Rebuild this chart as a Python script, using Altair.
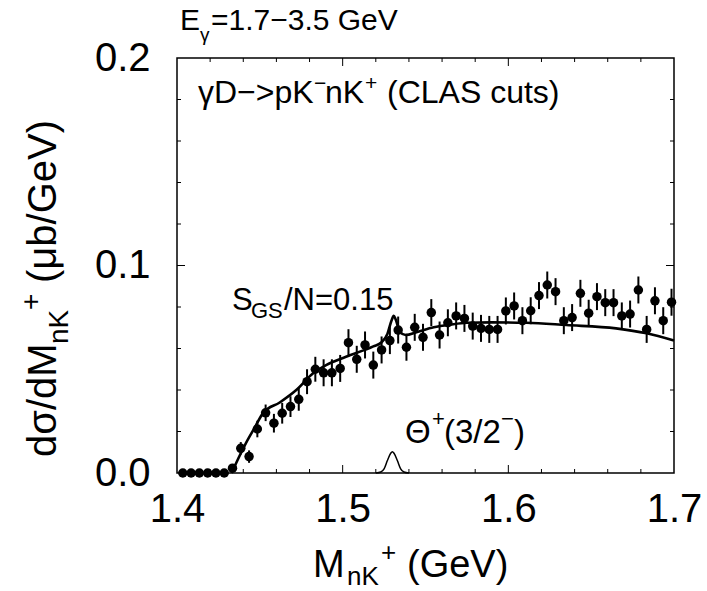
import altair as alt
import pandas as pd

# Measured cross section dsigma/dM(nK+) for gamma D -> p K- n K+ (CLAS cuts)
mass = [1.4035, 1.4085, 1.4135, 1.4185, 1.4235, 1.4285, 1.4335, 1.4385, 1.4435, 1.4485,
        1.4535, 1.4585, 1.4635, 1.4685, 1.4735, 1.4785, 1.4835, 1.4885, 1.4935, 1.4985,
        1.5035, 1.5085, 1.5135, 1.5185, 1.5235, 1.5285, 1.5335, 1.5385, 1.5435, 1.5485,
        1.5535, 1.5585, 1.5635, 1.5685, 1.5735, 1.5785, 1.5835, 1.5885, 1.5935, 1.5985,
        1.6035, 1.6085, 1.6135, 1.6185, 1.6235, 1.6285, 1.6335, 1.6385, 1.6435, 1.6485,
        1.6535, 1.6585, 1.6635, 1.6685, 1.6735, 1.6785, 1.6835, 1.6885, 1.6935, 1.6985]
dsig = [0.0, 0.0, 0.0, 0.0, 0.0, 0.0, 0.0023, 0.0119, 0.0079, 0.0212,
        0.0290, 0.0240, 0.0288, 0.0320, 0.0355, 0.0440, 0.0500, 0.0483, 0.0483, 0.0504,
        0.0628, 0.0548, 0.0617, 0.0520, 0.0593, 0.0638, 0.0689, 0.0606, 0.0702, 0.0654,
        0.0773, 0.0665, 0.0724, 0.0757, 0.0745, 0.0708, 0.0697, 0.0692, 0.0692, 0.0781,
        0.0805, 0.0734, 0.0782, 0.0855, 0.0906, 0.0874, 0.0734, 0.0749, 0.0866, 0.0770,
        0.0850, 0.0821, 0.0821, 0.0757, 0.0766, 0.0882, 0.0692, 0.0830, 0.0734, 0.0823]
dsig_err = [0.0, 0.0, 0.0, 0.0, 0.0, 0.0, 0.001, 0.003, 0.003, 0.004,
            0.004, 0.0045, 0.005, 0.005, 0.0055, 0.006, 0.006, 0.0065, 0.0065, 0.0065,
            0.0065, 0.0065, 0.0065, 0.0065, 0.0065, 0.0065, 0.0065, 0.0065, 0.0065, 0.0065,
            0.0065, 0.0065, 0.0065, 0.0065, 0.0065, 0.0065, 0.0065, 0.0065, 0.0065, 0.0065,
            0.0065, 0.0065, 0.0065, 0.0065, 0.0065, 0.0065, 0.0065, 0.0065, 0.0065, 0.0065,
            0.0065, 0.0065, 0.0065, 0.0065, 0.0065, 0.0065, 0.0065, 0.0065, 0.0065, 0.0065]

# Model: background plus Theta+ signal (S_GS/N = 0.15)
model_m = [1.433, 1.437, 1.442, 1.447, 1.452, 1.462, 1.472, 1.482, 1.490, 1.502,
           1.5185, 1.5235, 1.527, 1.5295, 1.5308, 1.532, 1.5345, 1.538, 1.545, 1.555,
           1.565, 1.575, 1.590, 1.611, 1.635, 1.665, 1.6835, 1.700]
model_v = [0.0, 0.007, 0.015, 0.022, 0.029, 0.034, 0.040, 0.048, 0.052, 0.056,
           0.061, 0.063, 0.067, 0.0735, 0.0757, 0.074, 0.068, 0.0665, 0.068, 0.0702,
           0.0715, 0.0724, 0.0726, 0.0724, 0.0713, 0.0697, 0.0673, 0.0638]

# Theta+(3/2-) signal alone
theta_m = [1.520, 1.523, 1.525, 1.527, 1.529, 1.530, 1.531, 1.533, 1.535, 1.537, 1.540]
theta_v = [0.0, 0.0005, 0.002, 0.006, 0.0095, 0.0103, 0.0095, 0.006, 0.002, 0.0005, 0.0]

# Axis ticks
x_major = [1.5, 1.6]
x_minor = [1.42, 1.44, 1.46, 1.48, 1.52, 1.54, 1.56, 1.58, 1.62, 1.64, 1.66, 1.68]
y_major = [0.1]
y_minor = [0.02, 0.04, 0.06, 0.08, 0.12, 0.14, 0.16, 0.18]

W, H = 497, 415
FONT = "Liberation Sans"

pts = pd.DataFrame({"m": mass, "v": dsig, "e": dsig_err})
pts["lo"] = pts["v"] - pts["e"]
pts["hi"] = pts["v"] + pts["e"]
model = pd.DataFrame({"m": model_m, "v": model_v})
theta = pd.DataFrame({"m": theta_m, "v": theta_v})

xs = alt.Scale(domain=[1.4, 1.7], nice=False, zero=False)
ys = alt.Scale(domain=[0.0, 0.2], nice=False, zero=False)

x_axis = alt.Axis(values=[1.4, 1.5, 1.6, 1.7], format=".1f", ticks=False, domain=False,
                  grid=False, title=None, labelFontSize=40, labelFont=FONT,
                  labelColor="black", labelPadding=16, labelFlush=False)
y_axis = alt.Axis(values=[0.0, 0.1, 0.2], format=".1f", ticks=False, domain=False,
                  grid=False, title=None, labelFontSize=40, labelFont=FONT,
                  labelColor="black", labelPadding=27)

base = alt.Chart(pts)

bars = base.mark_rule(color="black", strokeWidth=2).encode(
    x=alt.X("m:Q", scale=xs, axis=x_axis),
    y=alt.Y("lo:Q", scale=ys, axis=y_axis),
    y2="hi:Q",
)
dots = base.mark_circle(color="black", opacity=1, size=90).encode(
    x=alt.X("m:Q", scale=xs), y=alt.Y("v:Q", scale=ys)
)
model_line = alt.Chart(model).mark_line(color="black", strokeWidth=2.6,
                                        interpolate="monotone").encode(
    x=alt.X("m:Q", scale=xs), y=alt.Y("v:Q", scale=ys)
)
theta_line = alt.Chart(theta).mark_line(color="black", strokeWidth=1.5,
                                        interpolate="monotone").encode(
    x=alt.X("m:Q", scale=xs), y=alt.Y("v:Q", scale=ys)
)


def xticks(vals, length):
    d = alt.Chart(pd.DataFrame({"t": vals}))
    bottom = d.mark_rule(color="black", strokeWidth=1).encode(
        x=alt.X("t:Q", scale=xs), y=alt.value(H), y2=alt.value(H - length))
    top = d.mark_rule(color="black", strokeWidth=1).encode(
        x=alt.X("t:Q", scale=xs), y=alt.value(0), y2=alt.value(length))
    return [bottom, top]


def yticks(vals, length):
    d = alt.Chart(pd.DataFrame({"t": vals}))
    left = d.mark_rule(color="black", strokeWidth=1).encode(
        y=alt.Y("t:Q", scale=ys), x=alt.value(0), x2=alt.value(length))
    right = d.mark_rule(color="black", strokeWidth=1).encode(
        y=alt.Y("t:Q", scale=ys), x=alt.value(W), x2=alt.value(W - length))
    return [left, right]


one = pd.DataFrame({"k": [0]})


def label(text, x, y, size, angle=0):
    return alt.Chart(one).mark_text(
        text=text, font=FONT, fontSize=size, color="black", align="left",
        baseline="alphabetic", angle=angle,
    ).encode(x=alt.value(x), y=alt.value(y))


labels = [
    # beam energy range
    label("E", 3, -28, 30),
    label("γ", 23, -17, 19),
    label("=1.7−3.5 GeV", 34, -28, 30),
    # reaction
    label("γD−>pK", 21, 45, 32),
    label("−", 137, 32, 21),
    label("nK", 148, 45, 32),
    label("+", 188, 32, 21),
    label("(CLAS cuts)", 210, 45, 32),
    # signal-to-noise
    label("S", 55, 252, 31),
    label("GS", 74, 260, 22),
    label("/N=0.15", 107, 252, 31),
    # Theta+ curve
    label("Θ", 228, 385, 33),
    label("+", 255, 368, 22),
    label("(3/2", 267, 385, 33),
    label("−", 324, 368, 22),
    label(")", 337, 385, 33),
    # x title
    label("M", 136, 519, 38),
    label("nK", 170, 527, 26),
    label("+", 204, 503, 26),
    label("(GeV)", 230, 519, 38),
    # y title
    label("dσ/dM", -121, 399, 40, 270),
    label("nK", -109, 286, 28, 270),
    label("+", -137, 252, 28, 270),
    label("(μb/GeV)", -121, 225, 40, 270),
]

layers = [bars, dots, model_line, theta_line]
layers += xticks(x_major, 8) + xticks(x_minor, 4)
layers += yticks(y_major, 8) + yticks(y_minor, 4)
layers += labels

chart = alt.layer(*layers).properties(
    width=W, height=H,
    autosize=alt.AutoSizeParams(type="none"),
    padding={"left": 177, "top": 58, "right": 33, "bottom": 118},
    background="white",
).configure_view(stroke="black", strokeWidth=1.5)

chart.save("out.html", embed_options={"renderer": "svg", "actions": False})
